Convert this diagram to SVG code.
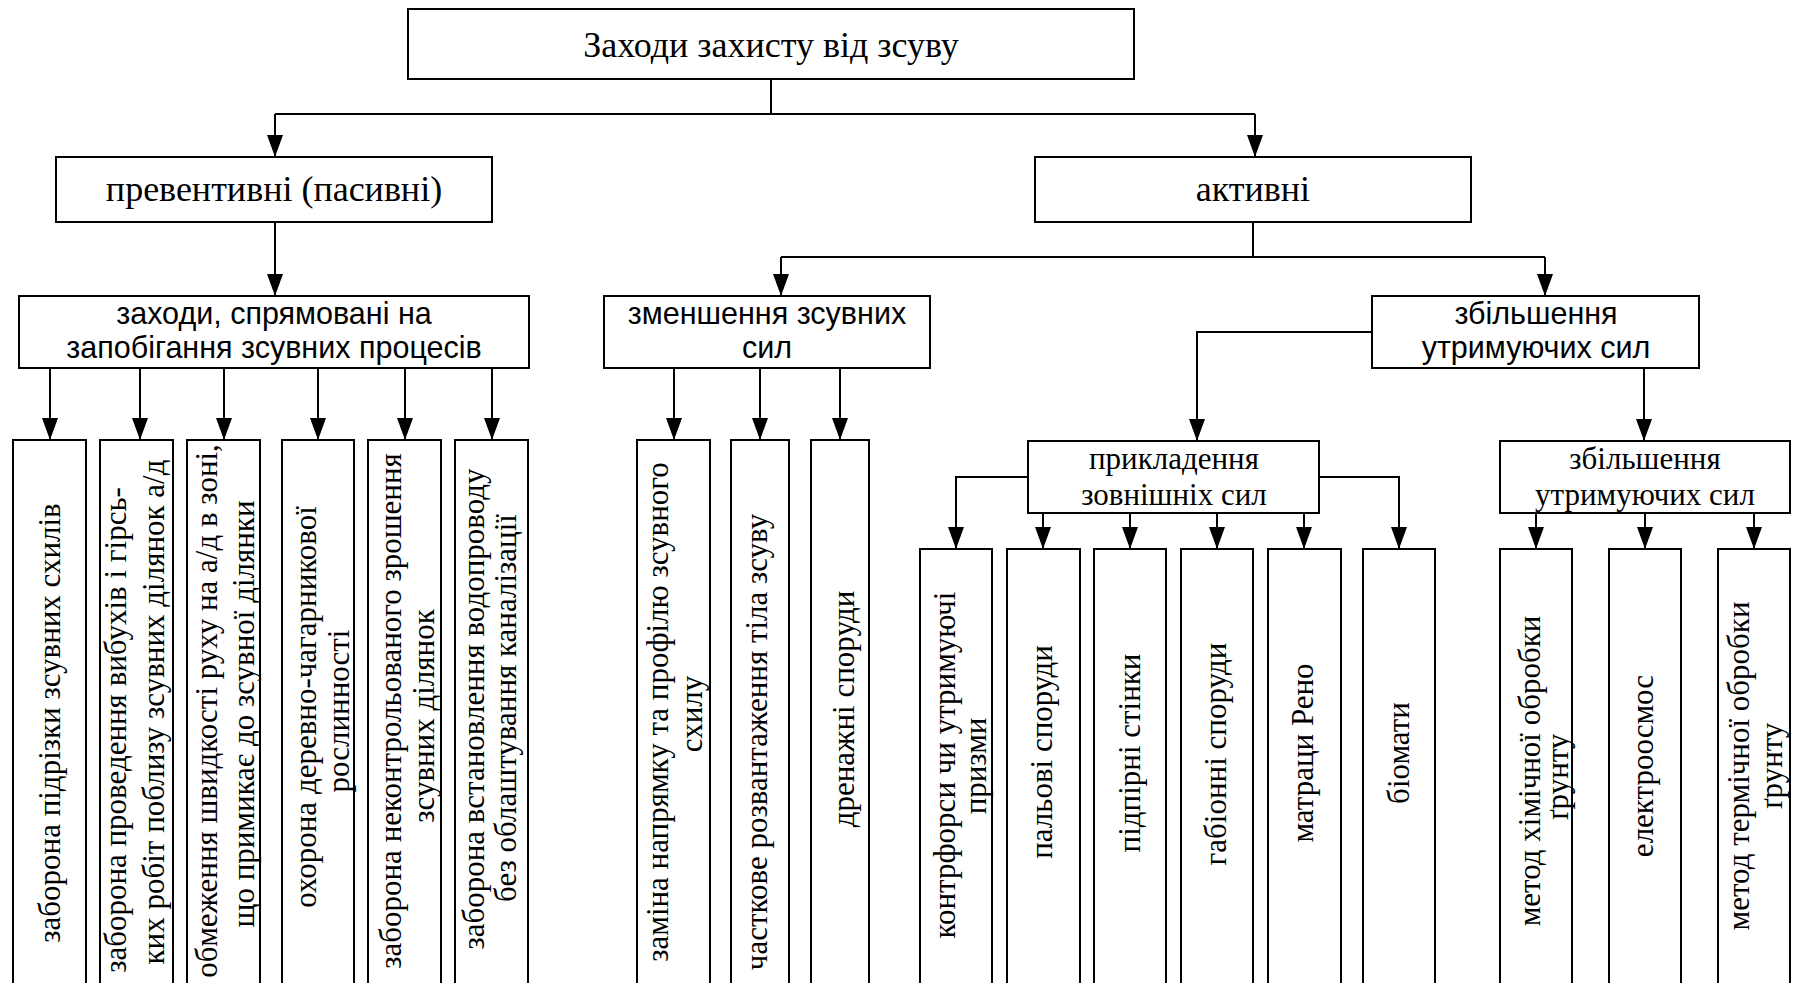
<svg xmlns="http://www.w3.org/2000/svg" width="1794" height="983" viewBox="0 0 1794 983">
<defs>
<marker id="ah" markerUnits="userSpaceOnUse" markerWidth="22" markerHeight="16" viewBox="0 0 22 16" refX="22" refY="8" orient="auto">
<path d="M0,0 L22,8 L0,16 Z" fill="#000"/>
</marker>
<style>
.b{fill:#fff;stroke:#000;stroke-width:2}
.c{fill:none;stroke:#000;stroke-width:2}
.a{fill:none;stroke:#000;stroke-width:2;marker-end:url(#ah)}
text{fill:#000}
.s{font-family:"Liberation Serif","Times New Roman",serif;font-size:36px;text-anchor:middle}
.ss{font-family:"Liberation Serif","Times New Roman",serif;font-size:31px;text-anchor:middle}
.n{font-family:"Liberation Sans",Arial,sans-serif;font-size:30.5px;text-anchor:middle}
</style>
</defs>
<rect x="0" y="0" width="1794" height="983" style="fill:#fff;stroke:none"/>

<g id="connectors">
<path class="c" d="M771,79 V114 M275,114 H1255"/>
<path class="a" d="M275,114 V157"/>
<path class="a" d="M1255,114 V157"/>
<path class="a" d="M275,222 V296"/>
<path class="a" d="M50,368 V440"/>
<path class="a" d="M140,368 V440"/>
<path class="a" d="M224,368 V440"/>
<path class="a" d="M318,368 V440"/>
<path class="a" d="M405,368 V440"/>
<path class="a" d="M492,368 V440"/>
<path class="c" d="M1253,222 V257 M781,257 H1545"/>
<path class="a" d="M781,257 V296"/>
<path class="a" d="M1545,257 V296"/>
<path class="a" d="M674,368 V440"/>
<path class="a" d="M760,368 V440"/>
<path class="a" d="M840,368 V440"/>
<path class="a" d="M1372,332 H1197 V441"/>
<path class="a" d="M1644,368 V441"/>
<path class="a" d="M1028,477 H956 V549"/>
<path class="a" d="M1043,513 V549"/>
<path class="a" d="M1130,513 V549"/>
<path class="a" d="M1217,513 V549"/>
<path class="a" d="M1304,513 V549"/>
<path class="a" d="M1319,477 H1399 V549"/>
<path class="a" d="M1536,513 V549"/>
<path class="a" d="M1645,513 V549"/>
<path class="a" d="M1754,513 V549"/>
</g>

<g id="root"><rect class="b" x="408" y="9" width="726" height="70"/><text class="s" x="771" y="57">Заходи захисту від зсуву</text></g>
<g id="preventive"><rect class="b" x="56" y="157" width="436" height="65"/><text class="s" x="274" y="201">превентивні (пасивні)</text></g>
<g id="active"><rect class="b" x="1035" y="157" width="436" height="65"/><text class="s" x="1253" y="201">активні</text></g>

<g id="prevent-measures"><rect class="b" x="19" y="296" width="510" height="72"/><text class="n" x="274" y="324">заходи, спрямовані на</text><text class="n" x="274" y="358">запобігання зсувних процесів</text></g>
<g id="reduce"><rect class="b" x="604" y="296" width="326" height="72"/><text class="n" x="767" y="324">зменшення зсувних</text><text class="n" x="767" y="358">сил</text></g>
<g id="increase"><rect class="b" x="1372" y="296" width="327" height="72"/><text class="n" x="1536" y="324">збільшення</text><text class="n" x="1536" y="358">утримуючих сил</text></g>

<g id="external"><rect class="b" x="1028" y="441" width="291" height="72"/><text class="ss" x="1174" y="469">прикладення</text><text class="ss" x="1174" y="505">зовнішніх сил</text></g>
<g id="increase2"><rect class="b" x="1500" y="441" width="290" height="72"/><text class="ss" x="1645" y="469">збільшення</text><text class="ss" x="1645" y="505">утримуючих сил</text></g>

<g id="p1"><rect class="b" x="13" y="440" width="73" height="570"/><text class="ss" transform="translate(60,723) rotate(-90)">заборона підрізки зсувних схилів</text></g>
<g id="p2"><rect class="b" x="100" y="440" width="73" height="570"/><text class="ss" transform="translate(126,730) rotate(-90)">заборона проведення вибухів і гірсь-</text><text class="ss" transform="translate(164,712) rotate(-90)">ких робіт поблизу зсувних ділянок а/д</text></g>
<g id="p3"><rect class="b" x="187" y="440" width="73" height="570"/><text class="ss" transform="translate(217,711) rotate(-90)">обмеження швидкості руху на а/д в зоні,</text><text class="ss" transform="translate(254,714) rotate(-90)">що примикає до зсувної ділянки</text></g>
<g id="p4"><rect class="b" x="282" y="440" width="72" height="570"/><text class="ss" transform="translate(316,707) rotate(-90)">охорона деревно-чагарникової</text><text class="ss" transform="translate(349,711) rotate(-90)">рослинності</text></g>
<g id="p5"><rect class="b" x="368" y="440" width="73" height="570"/><text class="ss" transform="translate(401,711) rotate(-90)">заборона неконтрольованого зрошення</text><text class="ss" transform="translate(434,716) rotate(-90)">зсувних ділянок</text></g>
<g id="p6"><rect class="b" x="455" y="440" width="73" height="570"/><text class="ss" transform="translate(484,709) rotate(-90)">заборона встановлення водопроводу</text><text class="ss" transform="translate(516,708) rotate(-90)">без облаштування каналізації</text></g>

<g id="r1"><rect class="b" x="637" y="440" width="73" height="570"/><text class="ss" transform="translate(668,712) rotate(-90)">заміна напрямку та профілю зсувного</text><text class="ss" transform="translate(702,714) rotate(-90)">схилу</text></g>
<g id="r2"><rect class="b" x="731" y="440" width="58" height="570"/><text class="ss" transform="translate(767,742) rotate(-90)">часткове розвантаження тіла зсуву</text></g>
<g id="r3"><rect class="b" x="811" y="440" width="58" height="570"/><text class="ss" transform="translate(854,709) rotate(-90)">дренажні споруди</text></g>

<g id="e1"><rect class="b" x="920" y="549" width="72" height="460"/><text class="ss" transform="translate(955,765) rotate(-90)">контрфорси чи утримуючі</text><text class="ss" transform="translate(986,766) rotate(-90)">призми</text></g>
<g id="e2"><rect class="b" x="1007" y="549" width="73" height="460"/><text class="ss" transform="translate(1052,752) rotate(-90)">пальові споруди</text></g>
<g id="e3"><rect class="b" x="1094" y="549" width="72" height="460"/><text class="ss" transform="translate(1140,753) rotate(-90)">підпірні стінки</text></g>
<g id="e4"><rect class="b" x="1181" y="549" width="72" height="460"/><text class="ss" transform="translate(1226,754) rotate(-90)">габіонні споруди</text></g>
<g id="e5"><rect class="b" x="1268" y="549" width="73" height="460"/><text class="ss" transform="translate(1313,753) rotate(-90)">матраци Рено</text></g>
<g id="e6"><rect class="b" x="1363" y="549" width="72" height="460"/><text class="ss" transform="translate(1409,753) rotate(-90)">біомати</text></g>

<g id="i1"><rect class="b" x="1500" y="549" width="72" height="460"/><text class="ss" transform="translate(1540,771) rotate(-90)">метод хімічної обробки</text><text class="ss" transform="translate(1568,777) rotate(-90)">ґрунту</text></g>
<g id="i2"><rect class="b" x="1609" y="549" width="72" height="460"/><text class="ss" transform="translate(1653,766) rotate(-90)">електроосмос</text></g>
<g id="i3"><rect class="b" x="1718" y="549" width="72" height="460"/><text class="ss" transform="translate(1749,766) rotate(-90)">метод термічної обробки</text><text class="ss" transform="translate(1782,766) rotate(-90)">ґрунту</text></g>
</svg>
